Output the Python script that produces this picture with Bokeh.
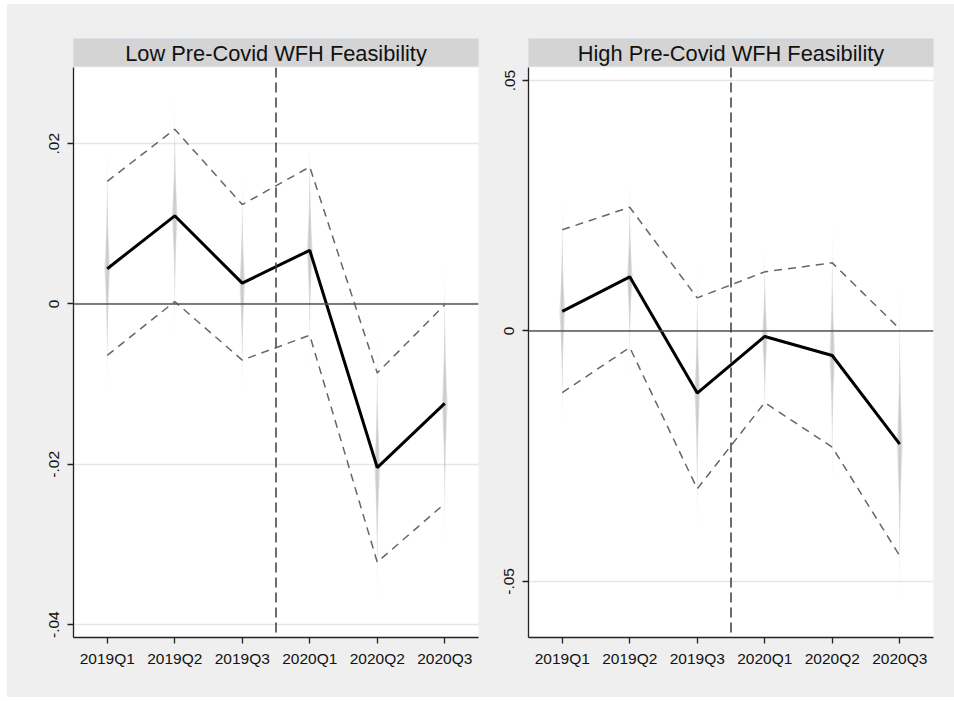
from bokeh.plotting import figure
from bokeh.layouts import row, column
from bokeh.models import Range1d, FixedTicker, Span, Label
from bokeh.embed import file_html
from bokeh.resources import INLINE

# ---------------- data ----------------
quarters = ["2019Q1", "2019Q2", "2019Q3", "2020Q1", "2020Q2", "2020Q3"]
xpos = [1, 2, 3, 4, 5, 6]
event_x = 3.5  # Covid onset marker, between 2019Q3 and 2020Q1

low_title = "Low Pre-Covid WFH Feasibility"
low_est = [0.0044, 0.0110, 0.0026, 0.0067, -0.0204, -0.0124]
low_upper = [0.0153, 0.0218, 0.0124, 0.0171, -0.0086, -0.0001]
low_lower = [-0.0064, 0.0003, -0.0070, -0.0039, -0.0322, -0.0249]
low_yticks = [-0.04, -0.02, 0.0, 0.02]
low_ylabels = ["-.04", "-.02", "0", ".02"]
low_yrange = (-0.0416, 0.0295)

high_title = "High Pre-Covid WFH Feasibility"
high_est = [0.0039, 0.0108, -0.0124, -0.0011, -0.0049, -0.0226]
high_upper = [0.0202, 0.0247, 0.0066, 0.0118, 0.0136, 0.0004]
high_lower = [-0.0123, -0.0033, -0.0315, -0.0143, -0.0232, -0.0449]
high_yticks = [-0.05, 0.0, 0.05]
high_ylabels = ["-.05", "0", ".05"]
high_yrange = (-0.0612, 0.0526)

# ---------------- style ----------------
BG = "#efefef"
STRIP = "#d4d4d4"
FONT = "Liberation Sans"
TICK_FS = "15.5px"
TITLE_FS = "21.8px"
FRAME_W = 405
FRAME_H = 570


def strip_fig(title, left, right):
    s = figure(frame_width=FRAME_W, frame_height=29, min_border_left=left,
               min_border_right=right, min_border_top=34, min_border_bottom=0,
               x_range=Range1d(0, 1), y_range=Range1d(0, 1),
               x_axis_location=None, y_axis_location=None,
               toolbar_location=None, output_backend="svg")
    s.background_fill_color = STRIP
    s.border_fill_color = BG
    s.outline_line_color = "#dbe2e7"
    s.grid.visible = False
    s.add_layout(Label(x=0.5, y=0.5, text=title, text_align="center",
                       text_baseline="middle", text_font=FONT,
                       text_font_size=TITLE_FS, text_color="#111111"))
    return s


def main_fig(est, upper, lower, yticks, ylabels, yrange, left, right):
    p = figure(frame_width=FRAME_W, frame_height=FRAME_H, min_border_left=left,
               min_border_right=right, min_border_top=0, min_border_bottom=60,
               x_range=Range1d(0.5, 6.5), y_range=Range1d(*yrange),
               toolbar_location=None, output_backend="svg")
    p.background_fill_color = "white"
    p.border_fill_color = BG
    p.outline_line_color = None

    # axes
    p.xaxis.ticker = FixedTicker(ticks=xpos)
    p.xaxis.major_label_overrides = {x: q for x, q in zip(xpos, quarters)}
    p.yaxis.ticker = FixedTicker(ticks=yticks)
    p.yaxis.major_label_overrides = {t: l for t, l in zip(yticks, ylabels)}
    p.yaxis.major_label_orientation = "vertical"
    for ax in (p.xaxis, p.yaxis):
        ax.axis_line_color = "#222222"
        ax.axis_line_width = 1.3
        ax.major_tick_line_color = "#222222"
        ax.major_tick_line_width = 1.3
        ax.major_tick_out = 6
        ax.major_tick_in = 0
        ax.minor_tick_line_color = None
        ax.major_label_text_font = FONT
        ax.major_label_text_font_size = TICK_FS
        ax.major_label_text_color = "#111111"
    p.xaxis.major_label_standoff = 6
    p.yaxis.major_label_standoff = 8

    p.xgrid.visible = False
    p.ygrid.ticker = FixedTicker(ticks=yticks)
    p.ygrid.grid_line_color = "#e6e6e6"
    p.ygrid.grid_line_width = 1.5

    # shaded spindles (distribution of each estimate)
    layers = [(1.45, 0.012), (1.2, 0.022), (0.95, 0.032), (0.7, 0.040), (0.45, 0.048)]
    for hf, w in layers:
        xs, ys = [], []
        for xi, e, u, l in zip(xpos, est, upper, lower):
            h = (u - l) / 2 * hf
            xs.append([xi, xi + w, xi, xi - w])
            ys.append([e + h, e, e - h, e])
        p.patches(xs, ys, fill_color="#9a9a9a", fill_alpha=0.13, line_color=None)

    p.add_layout(Span(location=0, dimension="width", line_color="#555555",
                      line_width=1.5))
    p.add_layout(Span(location=event_x, dimension="height", line_color="#3a3a3a",
                      line_width=1.5, line_dash="10 5"))

    p.line(xpos, upper, line_color="#666666", line_width=1.5, line_dash="8 6")
    p.line(xpos, lower, line_color="#666666", line_width=1.5, line_dash="8 6")
    p.line(xpos, est, line_color="black", line_width=3)
    return p


s1 = strip_fig(low_title, 66, 17)
m1 = main_fig(low_est, low_upper, low_lower, low_yticks, low_ylabels, low_yrange, 66, 17)
s2 = strip_fig(high_title, 33, 21)
m2 = main_fig(high_est, high_upper, high_lower, high_yticks, high_ylabels, high_yrange, 33, 21)

bg = {"background-color": BG}
layout = row(column(s1, m1, spacing=0, styles=bg),
             column(s2, m2, spacing=0, styles=bg),
             spacing=0, styles={"background-color": BG, "margin-left": "7px",
                                "margin-top": "4px"})

open("out.html", "w").write(file_html(layout, INLINE))
